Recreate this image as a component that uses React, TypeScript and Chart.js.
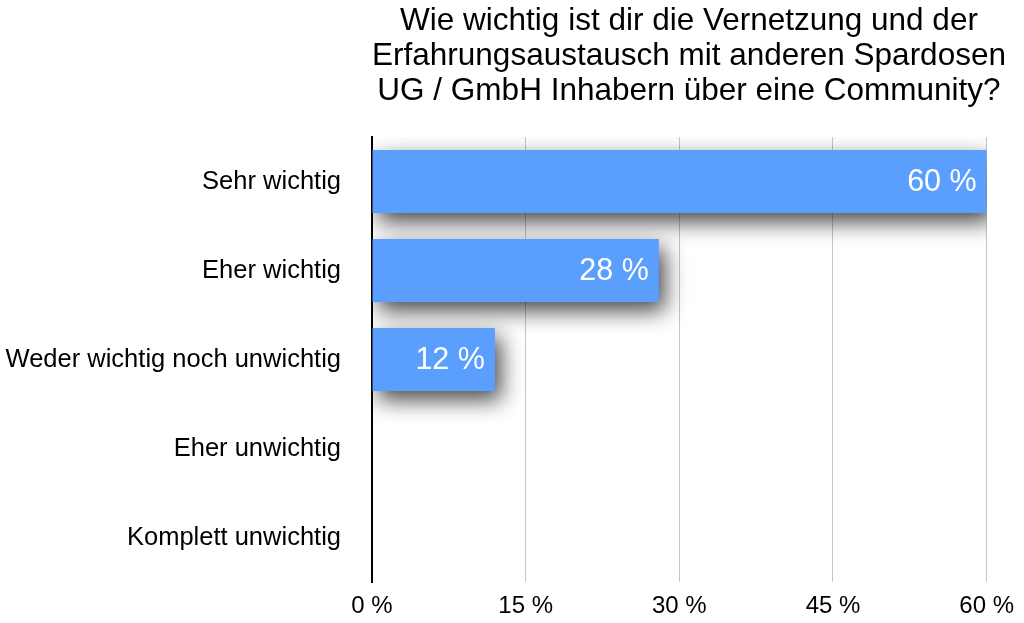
import React, { useEffect, useRef } from "react";
import { Chart, registerables } from "chart.js";

Chart.register(...registerables);

const categories = [
  "Sehr wichtig",
  "Eher wichtig",
  "Weder wichtig noch unwichtig",
  "Eher unwichtig",
  "Komplett unwichtig",
];
const values = [60, 28, 12, 0, 0];
const titleLines = [
  "Wie wichtig ist dir die Vernetzung und der",
  "Erfahrungsaustausch mit anderen Spardosen",
  "UG / GmbH Inhabern über eine Community?",
];
const xTicks = [0, 15, 30, 45, 60];

const FONT = "'Liberation Sans', Arial, Helvetica, sans-serif";

export default function App() {
  const ref = useRef<HTMLCanvasElement | null>(null);

  useEffect(() => {
    if (!ref.current) return;
    const decor = {
      id: "decor",
      beforeDatasetsDraw(chart: any) {
        const ctx = chart.ctx;
        ctx.save();
        ctx.shadowColor = "rgba(0,0,0,0.72)";
        ctx.shadowBlur = 22;
        ctx.shadowOffsetX = 6;
        ctx.shadowOffsetY = 9;
      },
      afterDatasetsDraw(chart: any) {
        const ctx = chart.ctx;
        ctx.restore();
        ctx.save();
        ctx.fillStyle = "#ffffff";
        ctx.font = `30.5px ${FONT}`;
        ctx.textAlign = "right";
        ctx.textBaseline = "middle";
        const meta = chart.getDatasetMeta(0);
        meta.data.forEach((bar: any, i: number) => {
          const v = values[i];
          if (!v) return;
          ctx.fillText(`${v} %`, bar.x - 10, bar.y + 1);
        });
        ctx.restore();
      },
      afterDraw(chart: any) {
        const ctx = chart.ctx;
        ctx.save();
        ctx.fillStyle = "#000000";
        ctx.font = `31.5px ${FONT}`;
        ctx.textAlign = "center";
        ctx.textBaseline = "middle";
        titleLines.forEach((t, i) => {
          ctx.fillText(t, 689, 21 + i * 35);
        });
        ctx.restore();
      },
    };

    const chart = new Chart(ref.current, {
      type: "bar",
      data: {
        labels: categories,
        datasets: [
          {
            data: values,
            backgroundColor: "#5a9ffd",
            borderWidth: 0,
            categoryPercentage: 1,
            barPercentage: 0.71,
          },
        ],
      },
      options: {
        indexAxis: "y",
        responsive: false,
        animation: false,
        layout: { padding: { top: 137, right: 37, left: 0, bottom: 0 } },
        plugins: {
          legend: { display: false },
          tooltip: { enabled: false },
          title: { display: false },
        },
        scales: {
          x: {
            min: 0,
            max: 60,
            afterBuildTicks(axis: any) {
              axis.ticks = xTicks.map((v) => ({ value: v }));
            },
            afterFit(axis: any) {
              axis.height = 41;
            },
            ticks: {
              callback: (v: any) => `${v} %`,
              color: "#000000",
              font: { family: FONT, size: 24 },
              padding: 10,
              maxRotation: 0,
            },
            grid: {
              color: "#c6c6c6",
              lineWidth: 1,
              drawTicks: false,
            },
            border: { display: false },
          },
          y: {
            afterFit(axis: any) {
              axis.width = 372;
            },
            ticks: {
              color: "#000000",
              font: { family: FONT, size: 25.5 },
              padding: 0,
            },
            grid: { display: false, drawTicks: true, tickLength: 31 },
            border: { display: true, color: "#000000", width: 2 },
          },
        },
      },
      plugins: [decor],
    });
    return () => chart.destroy();
  }, []);

  return (
    <div style={{ position: "absolute", left: 0, top: 0, width: 1024, height: 623, background: "#fff" }}>
      <canvas ref={ref} width={1024} height={623} />
    </div>
  );
}
